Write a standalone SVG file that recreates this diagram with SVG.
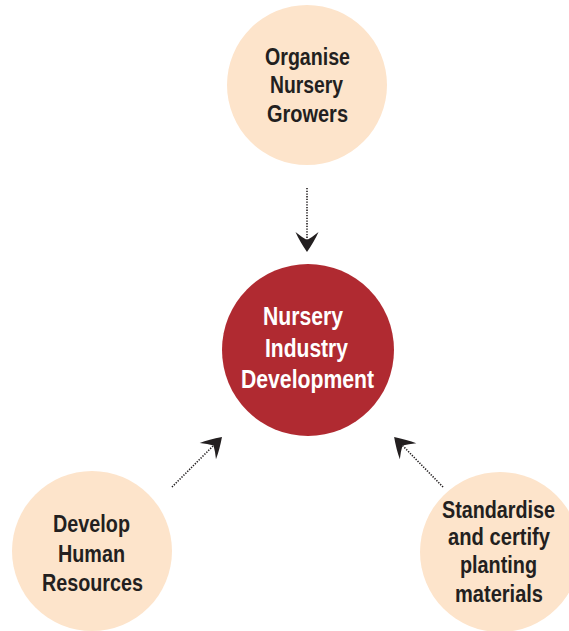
<svg xmlns="http://www.w3.org/2000/svg" width="569" height="631" viewBox="0 0 569 631">
  <style>
    .light { fill: #fde4cb; }
    .core { fill: #b02a31; }
    .lbl { font-family: "Liberation Sans", Arial, sans-serif; font-weight: bold; font-size: 23px; fill: #231f20; }
    .lbl-w { font-family: "Liberation Sans", Arial, sans-serif; font-weight: bold; font-size: 25px; fill: #ffffff; }
    .dots { fill: none; stroke: #231f20; stroke-width: 1.6; stroke-dasharray: 1.3 1.4; }
  </style>
  <defs>
    <marker id="head" markerUnits="userSpaceOnUse" markerWidth="22" markerHeight="24" refX="8" refY="11.5" orient="auto" overflow="visible">
      <path d="M20,11.5 Q9,4 0,0 Q5,6 8,11.5 Q5,17 0,23 Q9,19 20,11.5 Z" fill="#231f20"/>
    </marker>
  </defs>

  <g id="connectors">
    <line class="dots" x1="307" y1="188" x2="307" y2="240" marker-end="url(#head)"/>
    <line class="dots" x1="172" y1="487" x2="213.5" y2="445.5" marker-end="url(#head)"/>
    <line class="dots" x1="443" y1="487" x2="402.5" y2="445.5" marker-end="url(#head)"/>
  </g>

  <g id="organise">
    <circle class="light" cx="307" cy="85" r="80"/>
    <text class="lbl" x="265" y="65" textLength="85" lengthAdjust="spacingAndGlyphs">Organise</text>
    <text class="lbl" x="270" y="93" textLength="73" lengthAdjust="spacingAndGlyphs">Nursery</text>
    <text class="lbl" x="267" y="122" textLength="81" lengthAdjust="spacingAndGlyphs">Growers</text>
  </g>

  <g id="nursery-industry">
    <circle class="core" cx="308" cy="350" r="86"/>
    <text class="lbl-w" x="263" y="325" textLength="80" lengthAdjust="spacingAndGlyphs">Nursery</text>
    <text class="lbl-w" x="265" y="357" textLength="83" lengthAdjust="spacingAndGlyphs">Industry</text>
    <text class="lbl-w" x="241" y="388" textLength="133" lengthAdjust="spacingAndGlyphs">Development</text>
  </g>

  <g id="human-resources">
    <circle class="light" cx="92" cy="551" r="80"/>
    <text class="lbl" x="53" y="532" textLength="77" lengthAdjust="spacingAndGlyphs">Develop</text>
    <text class="lbl" x="58" y="562" textLength="67" lengthAdjust="spacingAndGlyphs">Human</text>
    <text class="lbl" x="42" y="591" textLength="101" lengthAdjust="spacingAndGlyphs">Resources</text>
  </g>

  <g id="planting-materials">
    <circle class="light" cx="500" cy="552" r="80"/>
    <text class="lbl" x="442" y="518" textLength="113" lengthAdjust="spacingAndGlyphs">Standardise</text>
    <text class="lbl" x="448" y="545" textLength="102" lengthAdjust="spacingAndGlyphs">and certify</text>
    <text class="lbl" x="460" y="573" textLength="77" lengthAdjust="spacingAndGlyphs">planting</text>
    <text class="lbl" x="455" y="602" textLength="88" lengthAdjust="spacingAndGlyphs">materials</text>
  </g>
</svg>
